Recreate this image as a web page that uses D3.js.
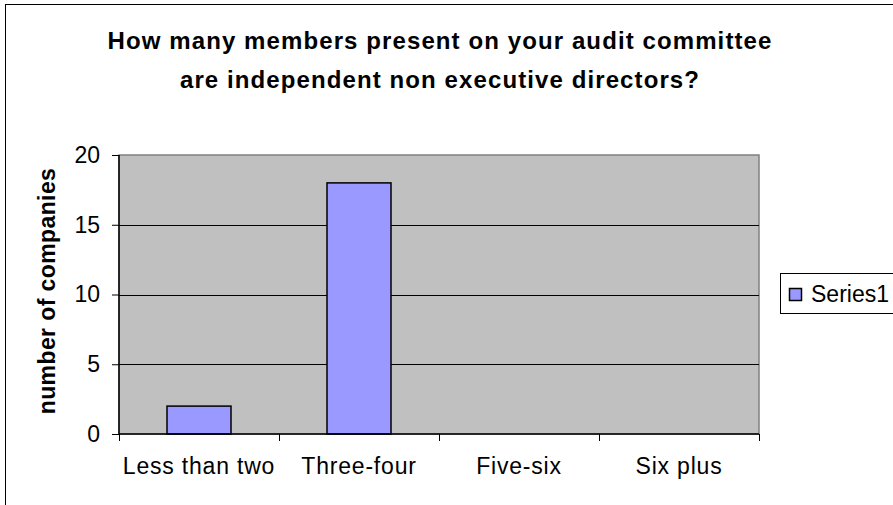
<!DOCTYPE html>
<html><head><meta charset="utf-8">
<script src="https://cdn.jsdelivr.net/npm/d3@7"></script>
<style>html,body{margin:0;padding:0;background:#fff;}svg{display:block;font-family:"Liberation Sans",Arial,sans-serif;}</style>
</head><body>
<svg id="c" width="893" height="505"></svg>
<script>
const categories = ["Less than two", "Three-four", "Five-six", "Six plus"];
const seriesName = "Series1";
const values = [2, 18, 0, 0];
const yTicks = [0, 5, 10, 15, 20];
const titleLines = ["How many members present on your audit committee", "are independent non executive directors?"];
const yLabel = "number of companies";

const svg = d3.select("#c");
const L = 119, R = 759, T = 155, B = 434;
const FS = 23;

// outer chart border (extends past right/bottom)
svg.append("rect").attr("x", 5.5).attr("y", 4.5).attr("width", 1000).attr("height", 1000)
  .attr("fill", "#fff").attr("stroke", "#000").attr("stroke-width", 1);

const x = d3.scaleBand().domain(categories).range([L, R]).paddingInner(0.6).paddingOuter(0.3);
const xOuter = d3.scaleBand().domain(categories).range([L, R]);
const y = d3.scaleLinear().domain([0, 20]).range([B, T]);

// plot area
svg.append("rect").attr("x", L).attr("y", T).attr("width", R - L).attr("height", B - T)
  .attr("fill", "#C0C0C0").attr("stroke", "#808080").attr("stroke-width", 1.5);

// gridlines
svg.append("g").selectAll("line").data(yTicks.filter(v => v > 0 && v < 20)).join("line")
  .attr("x1", L).attr("x2", R).attr("y1", d => Math.round(y(d)) + 0.5).attr("y2", d => Math.round(y(d)) + 0.5)
  .attr("stroke", "#000").attr("stroke-width", 1);

// bars
const barData = values.map((v, i) => ({c: categories[i], v})).filter(d => d.v > 0);
svg.append("g").selectAll("rect").data(barData).join("rect")
  .attr("x", d => x(d.c)).attr("width", x.bandwidth())
  .attr("y", d => y(d.v)).attr("height", d => y(0) - y(d.v))
  .attr("fill", "#9999FF").attr("stroke", "#000").attr("stroke-width", 1.5);

// y axis
const ya = d3.axisLeft(y).tickValues(yTicks).tickSize(7).tickPadding(12);
const gy = svg.append("g").attr("transform", `translate(${L},0)`).call(ya);
gy.select(".domain").attr("stroke", "#000").attr("stroke-width", 1.5).attr("d", `M0,${T}V${B}`);
gy.selectAll(".tick line").attr("stroke", "#000");
gy.selectAll(".tick text").attr("font-size", FS).attr("fill", "#000").attr("font-family", "Liberation Sans, Arial, sans-serif");

// x axis
const xa = d3.axisBottom(xOuter).tickSize(0).tickPadding(24);
const gx = svg.append("g").attr("transform", `translate(0,${B})`).call(xa);
gx.select(".domain").attr("stroke", "#000").attr("stroke-width", 1.5).attr("d", `M${L},0H${R}`);
gx.selectAll(".tick text").attr("font-size", FS).attr("letter-spacing", 0.8).attr("fill", "#000").attr("font-family", "Liberation Sans, Arial, sans-serif");
// category boundary ticks
const bounds = categories.map(c => xOuter(c)).concat([R]);
gx.append("g").selectAll("line").data(bounds).join("line")
  .attr("x1", d => Math.round(d) + 0.5).attr("x2", d => Math.round(d) + 0.5).attr("y1", 0).attr("y2", 7)
  .attr("stroke", "#000");

// title
svg.append("text").attr("text-anchor", "middle").attr("font-weight", "bold").attr("font-size", 24).attr("letter-spacing", 1.1)
  .selectAll("tspan").data(titleLines).join("tspan")
  .attr("x", 440).attr("y", (d, i) => 49 + i * 39).text(d => d);

// y label
svg.append("text").attr("transform", `translate(55,291) rotate(-90)`)
  .attr("text-anchor", "middle").attr("font-weight", "bold").attr("font-size", 23).attr("letter-spacing", 0.4).text(yLabel);

// legend
const lg = svg.append("g");
lg.append("rect").attr("x", 780.5).attr("y", 273.5).attr("width", 140).attr("height", 40)
  .attr("fill", "#fff").attr("stroke", "#000").attr("stroke-width", 1);
lg.append("rect").attr("x", 789.5).attr("y", 288.5).attr("width", 12).attr("height", 12)
  .attr("fill", "#9999FF").attr("stroke", "#000").attr("stroke-width", 1.5);
lg.append("text").attr("x", 811).attr("y", 302).attr("font-size", FS).text(seriesName);
</script>
</body></html>
